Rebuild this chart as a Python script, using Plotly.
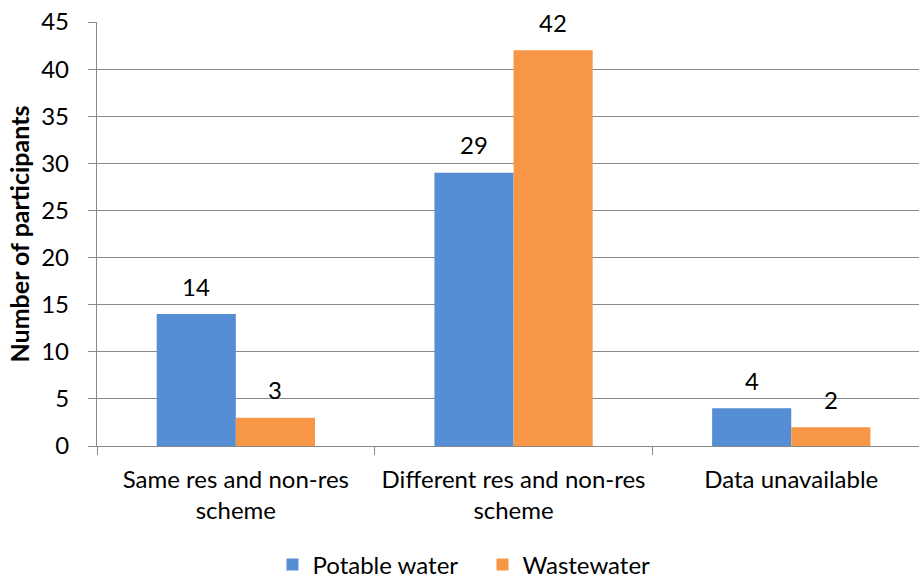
import plotly.graph_objects as go

categories = ["Same res and non-res<br>scheme", "Different res and non-res<br>scheme", "Data unavailable"]
potable = [14, 29, 4]
wastewater = [3, 42, 2]
y_ticks = [0, 5, 10, 15, 20, 25, 30, 35, 40, 45]

BLUE = "#558ed5"
ORANGE = "#f79646"
FONT = "Lato, Carlito, Calibri, sans-serif"
FS = 24

W, H = 919, 580
ML, MR, MT, MB = 97, 0, 22, 134
BARGAP = 0.43

fig = go.Figure()
fig.add_trace(go.Bar(name="Potable water", x=categories, y=potable,
                     marker=dict(color=BLUE, line=dict(width=0))))
fig.add_trace(go.Bar(name="Wastewater", x=categories, y=wastewater,
                     marker=dict(color=ORANGE, line=dict(width=0))))

# x range: right edge cut slightly short of the last category boundary
cat_px = 277.7
plot_w = W - ML - MR
x_range = [-0.5, -0.5 + plot_w / cat_px]

# value labels above each bar
bar_px = cat_px * (1 - BARGAP) / 2
for series, sign in ((potable, -1), (wastewater, 1)):
    for cat, v in zip(categories, series):
        fig.add_annotation(x=cat, y=v, text=str(v), showarrow=False,
                           xshift=sign * bar_px / 2, yshift=28,
                           yanchor="middle", xanchor="center",
                           font=dict(size=FS, color="#000000", family=FONT))

fig.update_layout(
    width=W, height=H,
    margin=dict(l=ML, r=MR, t=MT, b=MB, autoexpand=False),
    paper_bgcolor="white", plot_bgcolor="white",
    barmode="group", bargap=BARGAP, bargroupgap=0,
    font=dict(family=FONT, size=FS, color="#000000"),
    showlegend=True,
    legend=dict(orientation="h", xref="container", x=0.525, xanchor="center",
                yref="container", y=1 - 565 / H, yanchor="middle",
                font=dict(size=FS, family=FONT), itemwidth=30,
                entrywidth=165, entrywidthmode="pixels",
                traceorder="normal"),
)
fig.update_xaxes(
    range=x_range, tickson="boundaries", ticks="outside", ticklen=8,
    tickcolor="#888888", tickwidth=1.3,
    showline=True, linecolor="#888888", linewidth=1.3,
    ticklabelstandoff=12,
    tickfont=dict(size=FS, family=FONT), showgrid=False,
)
fig.update_yaxes(
    range=[0, 45], tickvals=y_ticks, ticks="outside", ticklen=8,
    tickcolor="#888888", tickwidth=1.3,
    showline=True, linecolor="#888888", linewidth=1.3,
    showgrid=True, gridcolor="#888888", gridwidth=1.3,
    zeroline=False, ticklabelstandoff=14,
    tickfont=dict(size=FS, family=FONT),
    title=dict(text="<b>Number of participants</b>", font=dict(size=25, family=FONT), standoff=4),
)

fig.write_html("out.html")
